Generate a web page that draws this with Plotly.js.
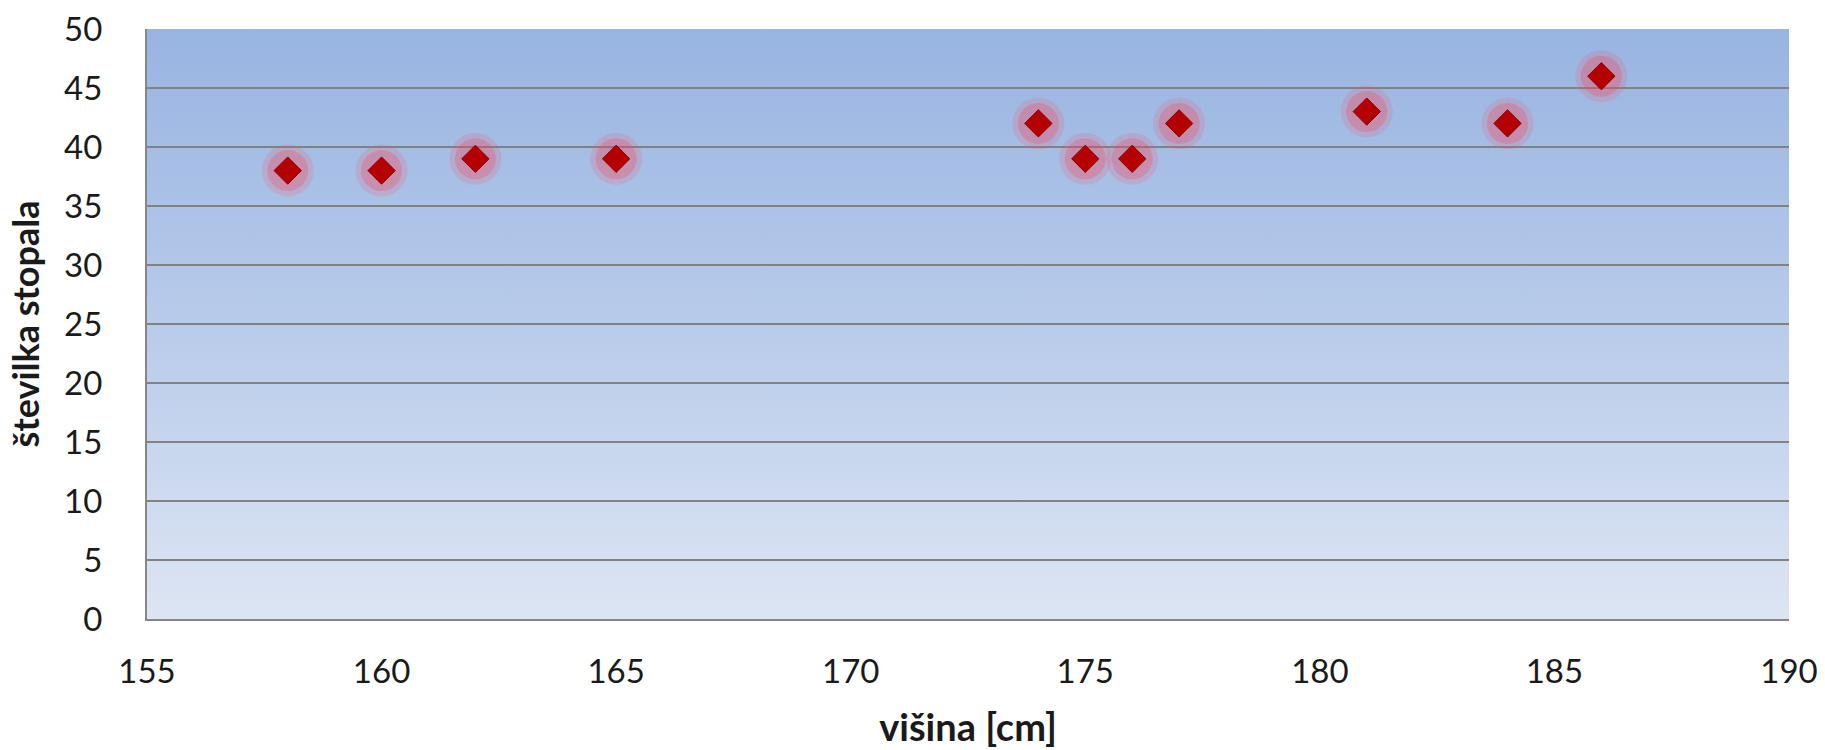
<!DOCTYPE html>
<html>
<head>
<meta charset="utf-8">
<script src="https://cdn.plot.ly/plotly-3.0.1.min.js"></script>
<style>
html,body{margin:0;padding:0;background:#fff;}
#chart{width:1825px;height:750px;}
</style>
</head>
<body>
<div id="chart"></div>
<script>
// Data
const visina = [158, 160, 162, 165, 174, 175, 176, 177, 181, 184, 186];
const stevilka = [38, 38, 39, 39, 42, 39, 39, 42, 43, 42, 46];
const xTickVals = [155, 160, 165, 170, 175, 180, 185, 190];
const yTickVals = [0, 5, 10, 15, 20, 25, 30, 35, 40, 45, 50];
const xTitle = 'višina [cm]';
const yTitle = 'številka stopala';

const svg = '<svg xmlns="http://www.w3.org/2000/svg" width="100" height="100" preserveAspectRatio="none">' +
  '<defs><linearGradient id="g" x1="0" y1="0" x2="0" y2="1">' +
  '<stop offset="0" stop-color="#98b4e1"/>' +
  '<stop offset="0.5" stop-color="#b8cbea"/>' +
  '<stop offset="1" stop-color="#dde5f3"/>' +
  '</linearGradient></defs><rect width="100" height="100" fill="url(#g)"/></svg>';
const bgSrc = 'data:image/svg+xml;charset=utf-8,' + encodeURIComponent(svg);

const FONT = 'Lato, "Open Sans", sans-serif';

const traces = [
  {
    x: visina, y: stevilka, type: 'scatter', mode: 'markers', hoverinfo: 'skip',
    marker: {symbol: 'circle', size: 52, color: 'rgba(255,70,90,0.16)', line: {width: 0}}
  },
  {
    x: visina, y: stevilka, type: 'scatter', mode: 'markers', hoverinfo: 'skip',
    marker: {symbol: 'circle', size: 41, color: 'rgba(250,60,80,0.26)', line: {width: 0}}
  },
  {
    x: visina, y: stevilka, type: 'scatter', mode: 'markers',
    marker: {symbol: 'diamond', size: 21, color: '#b40000', line: {width: 1, color: '#880000'}}
  }
];

const layout = {
  width: 1825, height: 750,
  margin: {l: 147, r: 36, t: 29, b: 131},
  paper_bgcolor: '#ffffff',
  plot_bgcolor: 'rgba(0,0,0,0)',
  showlegend: false,
  font: {family: FONT, color: '#1a1a1a'},
  images: [{
    source: bgSrc, xref: 'paper', yref: 'paper', x: 0, y: 1, sizex: 1, sizey: 1,
    sizing: 'stretch', xanchor: 'left', yanchor: 'top', layer: 'below'
  }],
  xaxis: {
    range: [155, 190], tickvals: xTickVals, ticktext: xTickVals.map(String),
    showgrid: false, zeroline: false,
    showline: true, linecolor: '#868686', linewidth: 2,
    ticks: '', ticklen: 0, tickfont: {family: FONT, size: 33, color: '#1a1a1a'},
    ticklabelstandoff: 22,
    title: {text: xTitle, font: {family: FONT, size: 38, color: '#1a1a1a', weight: 'bold'}, standoff: 26}
  },
  yaxis: {
    range: [0, 50], tickvals: yTickVals, ticktext: yTickVals.map(String),
    showgrid: true, gridcolor: '#828282', gridwidth: 2,
    zeroline: false,
    showline: true, linecolor: '#868686', linewidth: 2,
    ticks: '', tickfont: {family: FONT, size: 33, color: '#1a1a1a'},
    ticklabelstandoff: 36,
    title: {text: yTitle, font: {family: FONT, size: 36, color: '#1a1a1a', weight: 'bold'}, standoff: 14}
  }
};

Plotly.newPlot('chart', traces, layout, {displayModeBar: false, staticPlot: true});
</script>
</body>
</html>
